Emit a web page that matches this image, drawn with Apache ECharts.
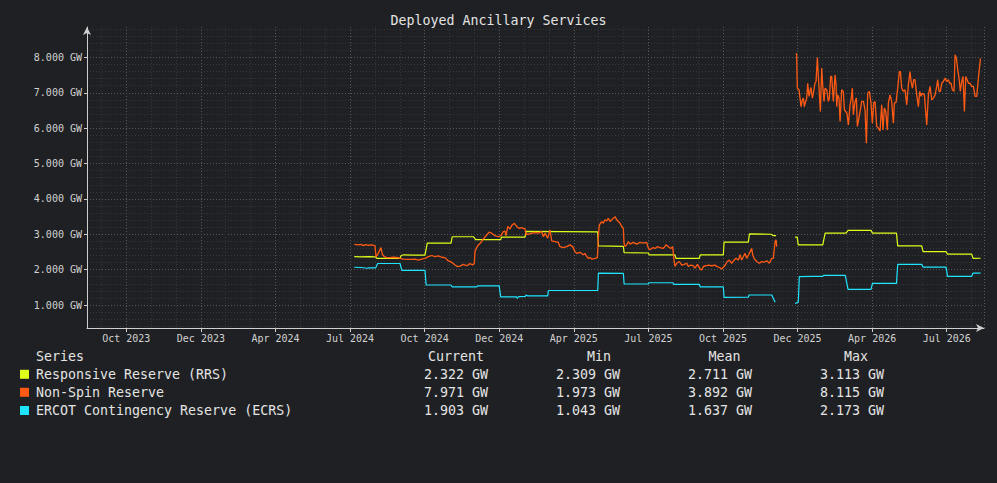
<!DOCTYPE html>
<html>
<head>
<meta charset="utf-8">
<script src="https://cdn.jsdelivr.net/npm/echarts@6/dist/echarts.min.js"></script>
<style>
html,body{margin:0;padding:0;background:#1f2023;}
#chart{width:997px;height:483px;}
</style>
</head>
<body>
<div id="chart"></div>
<script>
// x is measured in tenths of one labelled period (tick label i sits at x = 10*i)
const xTickLabels = ['Oct 2023','Dec 2023','Apr 2024','Jul 2024','Oct 2024','Dec 2024','Apr 2025','Jul 2025','Oct 2025','Dec 2025','Apr 2026','Jul 2026'];

const seriesNames = ['Responsive Reserve (RRS)', 'Non-Spin Reserve', 'ERCOT Contingency Reserve (ECRS)'];
const seriesColors = ['#dfff1a', '#ff5a14', '#1ee4ff'];

const tableHeaders = ['Series', 'Current', 'Min', 'Mean', 'Max'];
const statCurrent = [2.322, 7.971, 1.903];
const statMin = [2.309, 1.973, 1.043];
const statMean = [2.711, 3.892, 1.637];
const statMax = [3.113, 8.115, 2.173];

const rrs = [
  [30.57,2.37],[31.5,2.36],[32.5,2.37],[33.44,2.36],[33.6,2.32],[36.70,2.32],[36.85,2.40],[37.2,2.42],[38.5,2.41],
  [40.05,2.41],[40.35,2.75],[43.54,2.75],[43.7,2.93],[46.5,2.93],[46.66,2.91],[46.8,2.85],[50.20,2.85],[50.3,2.92],
  [53.46,2.92],[53.6,3.08],[63.21,3.07],[63.3,2.67],[66.64,2.66],[66.75,2.48],[69.99,2.47],[70.1,2.42],[73.57,2.42],
  [73.7,2.32],[76.83,2.32],[76.95,2.42],[80.05,2.42],[80.15,2.78],[83.40,2.78],[83.55,3.01],[86.54,3.00],[86.7,2.96],
  [87.12,2.96],[88.4,null],
  [89.66,2.92],[89.95,2.92],[90.1,2.70],[93.38,2.70],[93.7,3.03],[96.5,3.03],[96.77,3.11],[99.85,3.11],[100.05,3.03],
  [103.27,3.03],[103.43,2.67],[106.65,2.67],[106.83,2.51],[109.91,2.51],[110.11,2.44],[113.35,2.44],[113.53,2.32],[114.54,2.322]
];

const nonSpin = [
  [30.57,2.717],[31.11,2.698],[31.47,2.717],[31.78,2.679],[32.09,2.708],[32.45,2.689],[32.90,2.698],[33.34,2.679],
  [33.48,2.368],[33.66,2.415],[33.88,2.509],[34.15,2.623],[34.33,2.434],[34.59,2.368],[34.91,2.34],[35.35,2.34],
  [35.80,2.35],[36.47,2.34],[36.70,2.32],[37.14,2.30],[37.59,2.29],[38.26,2.29],[38.71,2.30],[39.15,2.27],[39.60,2.30],
  [40.05,2.32],[40.50,2.368],[40.94,2.40],[41.39,2.368],[41.84,2.387],[42.28,2.35],[42.73,2.34],[43.18,2.245],
  [43.62,2.21],[44.07,2.13],[44.43,2.085],[44.74,2.10],[45.19,2.15],[45.64,2.11],[46.08,2.17],[46.44,2.13],[46.66,2.18],
  [46.75,2.51],[46.98,2.623],[47.20,2.698],[47.56,2.77],[47.87,2.868],[48.32,2.98],[48.63,3.06],[48.99,3.03],
  [49.44,2.96],[49.88,2.93],[50.24,2.96],[50.55,3.075],[50.78,3.09],[50.91,2.96],[51.14,3.22],[51.45,3.15],
  [51.67,3.245],[52.03,3.31],[52.34,3.22],[52.65,3.17],[53.01,3.19],[53.46,3.15],[53.59,3.0],[53.91,3.0],[54.35,3.03],
  [54.80,3.05],[55.25,3.03],[55.69,3.075],[55.92,2.93],[56.14,3.03],[56.50,2.89],[56.81,3.12],[57.04,2.81],[57.48,2.79],
  [57.93,2.77],
  [58.15,2.65],[58.60,2.62],[59.04,2.65],[59.49,2.70],[59.85,2.65],[60.16,2.51],[60.39,2.46],[60.83,2.49],[61.28,2.42],
  [61.50,2.46],[61.73,2.37],[61.95,2.32],[62.17,2.34],[62.40,2.30],[62.84,2.32],[63.16,2.34],[63.29,2.89],[63.42,3.26],
  [63.74,3.36],[63.96,3.31],[64.18,3.41],[64.41,3.38],[64.63,3.45],[64.86,3.36],[65.08,3.41],[65.30,3.45],[65.53,3.50],
  [65.75,3.41],[65.97,3.36],[66.20,3.31],[66.42,3.22],[66.64,3.17],[66.73,2.75],[66.87,2.65],[67.09,2.70],[67.31,2.79],
  [67.54,2.72],[67.98,2.77],[68.43,2.72],[68.88,2.77],[69.33,2.75],[69.77,2.77],[70.0,2.60],[70.22,2.56],[70.58,2.62],
  [70.89,2.60],[71.20,2.65],[71.56,2.62],[72.01,2.60],[72.37,2.70],[72.68,2.65],[72.99,2.60],[73.26,2.65],[73.44,2.27],
  [73.57,2.09],[73.80,2.18],[74.15,2.23],[74.47,2.13],[74.78,2.15],[75.14,2.18],[75.36,2.09],[75.67,2.13],[76.03,2.11],
  [76.25,2.04],[76.57,2.15],[76.93,2.02],[77.15,1.99],[77.37,2.09],[77.73,2.11],[78.04,2.13],[78.49,2.11],[78.94,2.13],
  [79.16,2.09],[79.52,2.06],[79.83,2.02],[80.14,2.09],[80.32,2.13],[80.5,2.21],[80.86,2.27],[81.17,2.18],[81.40,2.25],
  [81.75,2.32],[82.07,2.27],[82.29,2.42],[82.51,2.27],[82.74,2.37],[82.96,2.46],[83.18,2.32],[83.54,2.46],[83.85,2.60],
  [83.99,2.42],[84.17,2.32],[84.52,2.23],[84.88,2.18],[85.19,2.23],[85.51,2.21],[85.87,2.25],[86.22,2.18],[86.54,2.32],
  [86.76,2.32],[86.98,2.79],[87.12,2.84],[87.21,2.65],[88.4,null],
  [89.75,8.11],[89.88,8.10],[89.97,7.13],[90.20,7.085],[90.33,6.85],[90.47,6.61],[90.64,6.80],[90.78,6.85],[90.91,6.61],
  [91.09,6.755],[91.23,6.85],[91.36,7.27],[91.54,6.90],[91.67,7.04],[91.81,7.15],[91.99,6.85],[92.12,6.99],[92.34,7.27],
  [92.48,7.32],[92.66,8.0],[92.79,7.46],[92.92,6.99],[93.06,6.47],[93.24,7.70],[93.37,7.23],[93.55,6.755],[93.68,7.13],
  [93.91,7.085],[94.13,6.755],[94.27,6.85],[94.44,7.46],[94.58,7.46],[94.80,6.755],[95.03,7.51],[95.16,7.23],[95.25,6.61],
  [95.38,6.94],[95.56,6.85],[95.70,6.19],[95.92,7.085],[96.14,7.04],[96.28,6.52],[96.46,6.47],[96.63,6.42],[96.81,6.09],
  [97.04,6.66],[97.17,6.80],[97.35,7.13],[97.48,6.38],[97.71,6.755],[97.89,6.85],[98.02,6.05],[98.15,6.19],[98.38,6.47],
  [98.60,6.755],[98.83,6.755],[99.05,6.52],[99.23,5.575],[99.41,6.99],[99.63,7.04],[99.85,6.71],[100.03,6.14],
  [100.21,6.71],[100.39,6.755],[100.61,6.05],[100.84,6.0],[101.06,5.92],[101.28,6.66],[101.46,5.95],[101.64,6.57],
  [101.82,6.47],[102.04,5.95],[102.18,6.71],[102.40,6.94],[102.62,6.755],[102.85,6.14],[102.98,6.71],[103.21,6.73],
  [103.43,7.13],[103.65,7.60],[103.79,7.60],[103.97,7.13],[104.19,7.04],[104.41,7.085],[104.64,6.66],[104.86,7.23],
  [105.08,7.60],[105.22,7.32],[105.40,7.13],[105.58,7.37],[105.75,7.37],[105.98,6.94],[106.20,6.61],[106.38,7.04],
  [106.56,6.90],[106.74,6.99],[107.01,6.94],[107.18,6.47],[107.32,6.09],[107.54,6.94],[107.77,7.18],[107.99,6.80],
  [108.21,6.85],[108.44,6.94],[108.66,7.18],[108.79,7.37],[108.97,7.04],[109.15,7.04],[109.33,7.27],[109.55,7.32],
  [109.78,7.415],[110.0,7.32],[110.22,7.37],[110.40,7.27],[110.58,7.27],[110.76,7.085],[110.98,7.04],[111.12,8.075],
  [111.30,7.98],[111.48,7.65],[111.65,7.415],[111.83,7.04],[112.01,7.32],[112.19,7.46],[112.37,6.47],[112.55,7.46],
  [112.73,7.37],[112.91,7.27],[113.13,7.27],[113.35,7.18],[113.58,7.18],[113.80,6.90],[114.02,6.90],[114.25,7.415],
  [114.52,7.971]
];

const ecrs = [
  [30.57,2.067],[31.5,2.06],[32.3,2.04],[32.5,2.05],[33.0,2.05],[33.44,2.05],[33.7,2.173],[36.70,2.173],[36.95,1.98],
  [40.05,1.98],[40.2,1.57],[43.54,1.566],[43.7,1.51],[47.0,1.51],[47.1,1.54],[50.0,1.54],[50.2,1.23],[52.3,1.23],
  [52.4,1.19],[52.6,1.235],[53.5,1.24],[53.6,1.28],[53.8,1.26],[56.5,1.26],[56.6,1.41],[63.21,1.415],[63.3,1.90],
  [66.64,1.897],[66.75,1.594],[69.99,1.60],[70.1,1.63],[73.3,1.63],[73.4,1.586],[76.83,1.586],[76.95,1.51],[80.05,1.51],
  [80.15,1.218],[83.40,1.22],[83.5,1.283],[86.54,1.283],[87.0,1.08],[88.4,null],
  [89.66,1.043],[90.1,1.08],[90.24,1.80],[92.0,1.81],[93.38,1.81],[93.5,1.84],[96.4,1.84],[96.77,1.44],[99.85,1.44],
  [100.05,1.61],[103.27,1.61],[103.43,2.15],[106.65,2.15],[106.83,2.07],[109.91,2.07],[110.11,1.81],[113.35,1.81],
  [113.53,1.903],[114.54,1.903]
];

const mono = "'DejaVu Sans Mono', 'Liberation Mono', monospace";
const textColor = '#e4e4e4';

function fmtGW(v) { return v.toFixed(3) + ' GW'; }

// legend table built from the arrays above
const graphics = [];
const rowY = [356, 374.3, 392.3, 410.5];
const headerRight = [null, 484, 611, 740.5, 868];
const valueRight = [488, 620, 752, 884];
graphics.push({ type: 'text', x: 36, y: rowY[0], style: { text: tableHeaders[0], fill: textColor, font: '13.3px ' + mono, align: 'left', verticalAlign: 'middle', textAlign: 'left', textVerticalAlign: 'middle' } });
for (let c = 1; c < tableHeaders.length; c++) {
  graphics.push({ type: 'text', x: headerRight[c], y: rowY[0], style: { text: tableHeaders[c], fill: textColor, font: '13.3px ' + mono, align: 'right', verticalAlign: 'middle', textAlign: 'right', textVerticalAlign: 'middle' } });
}
const statCols = [statCurrent, statMin, statMean, statMax];
for (let r = 0; r < seriesNames.length; r++) {
  const y = rowY[r + 1];
  graphics.push({ type: 'rect', shape: { x: 20, y: y - 4.5, width: 9, height: 9 }, style: { fill: seriesColors[r] } });
  graphics.push({ type: 'text', x: 36, y: y, style: { text: seriesNames[r], fill: textColor, font: '13.3px ' + mono, align: 'left', verticalAlign: 'middle', textAlign: 'left', textVerticalAlign: 'middle' } });
  for (let c = 0; c < statCols.length; c++) {
    graphics.push({ type: 'text', x: valueRight[c], y: y, style: { text: fmtGW(statCols[c][r]), fill: textColor, font: '13.3px ' + mono, align: 'right', verticalAlign: 'middle', textAlign: 'right', textVerticalAlign: 'middle' } });
  }
}

const chart = echarts.init(document.getElementById('chart'), null, { renderer: 'svg' });
const axisCol = '#cfcfcf';
chart.setOption({
  backgroundColor: '#1f2023',
  animation: false,
  title: {
    text: 'Deployed Ancillary Services',
    left: 'center',
    top: 9,
    textStyle: { color: textColor, fontFamily: mono, fontSize: 13.3, fontWeight: 'normal' }
  },
  grid: { left: 87, right: 13, top: 27, bottom: 155, containLabel: false },
  xAxis: {
    type: 'value',
    min: -5.27,
    max: 115.0,
    splitNumber: 12,
    minInterval: 10,
    maxInterval: 10,
    axisLine: { show: true, onZero: false, lineStyle: { color: axisCol, width: 1 }, symbol: ['none', 'arrow'], symbolSize: [6, 8] },
    axisTick: { show: true, length: 4, lineStyle: { color: axisCol } },
    axisLabel: {
      color: '#d2d2d2', fontFamily: mono, fontSize: 10, margin: 5,
      showMinLabel: false, showMaxLabel: false,
      formatter: function (v) {
        const i = Math.round(v / 10);
        return Math.abs(v - i * 10) < 1e-6 && xTickLabels[i] ? xTickLabels[i] : '';
      }
    },
    splitLine: { show: true, showMinLine: false, lineStyle: { color: '#575757', type: [1, 2], width: 1 } },
    minorTick: { show: false, splitNumber: 3 },
    minorSplitLine: { show: true, lineStyle: { color: '#35363a', type: [1, 2], width: 1 } }
  },
  yAxis: {
    type: 'value',
    min: 0.35,
    max: 8.86,
    splitNumber: 8,
    minInterval: 1,
    maxInterval: 1,
    axisLine: { show: true, onZero: false, lineStyle: { color: axisCol, width: 1 }, symbol: ['none', 'arrow'], symbolSize: [6, 8] },
    axisTick: { show: true, length: 3, lineStyle: { color: axisCol } },
    axisLabel: {
      color: '#d2d2d2', fontFamily: mono, fontSize: 10, margin: 5,
      showMinLabel: false, showMaxLabel: false,
      formatter: function (v) { return Math.abs(v - Math.round(v)) < 1e-6 ? fmtGW(v) : ''; }
    },
    splitLine: { show: true, showMinLine: false, showMaxLine: false, lineStyle: { color: '#575757', type: [1, 2], width: 1 } },
    minorTick: { show: false, splitNumber: 5 },
    minorSplitLine: { show: true, lineStyle: { color: '#35363a', type: [1, 2], width: 1 } }
  },
  series: [
    { name: seriesNames[0], type: 'line', data: rrs, showSymbol: false, connectNulls: false, lineStyle: { color: seriesColors[0], width: 1.2 }, itemStyle: { color: seriesColors[0] } },
    { name: seriesNames[1], type: 'line', data: nonSpin, showSymbol: false, connectNulls: false, lineStyle: { color: seriesColors[1], width: 1.3 }, itemStyle: { color: seriesColors[1] } },
    { name: seriesNames[2], type: 'line', data: ecrs, showSymbol: false, connectNulls: false, lineStyle: { color: seriesColors[2], width: 1.2 }, itemStyle: { color: seriesColors[2] } }
  ],
  graphic: graphics
});
</script>
</body>
</html>
